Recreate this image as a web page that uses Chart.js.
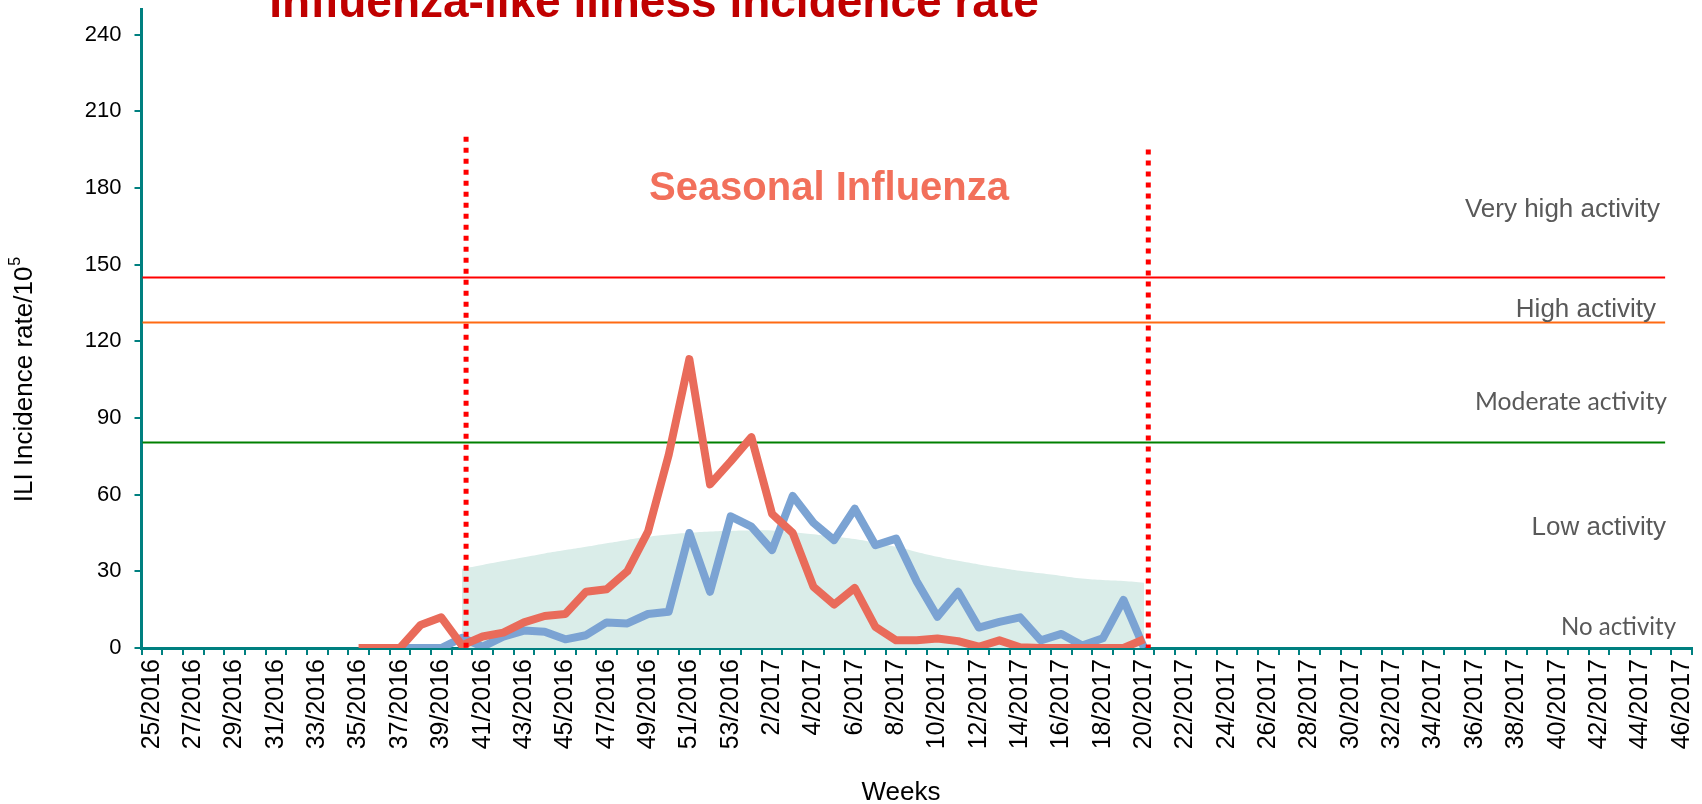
<!DOCTYPE html>
<html>
<head>
<meta charset="utf-8">
<script src="https://cdn.jsdelivr.net/npm/chart.js@4.4.1/dist/chart.umd.min.js"></script>
<style>
html,body{margin:0;padding:0;background:#ffffff;}
#wrap{width:1702px;height:804px;position:relative;overflow:hidden;}
</style>
</head>
<body>
<div id="wrap"><canvas id="c" width="1702" height="804"></canvas></div>
<script>
// ---------- DATA ----------
const weekLabels = [
  '25/2016','26/2016','27/2016','28/2016','29/2016','30/2016','31/2016','32/2016','33/2016','34/2016',
  '35/2016','36/2016','37/2016','38/2016','39/2016','40/2016','41/2016','42/2016','43/2016','44/2016',
  '45/2016','46/2016','47/2016','48/2016','49/2016','50/2016','51/2016','52/2016','53/2016',
  '1/2017','2/2017','3/2017','4/2017','5/2017','6/2017','7/2017','8/2017','9/2017','10/2017',
  '11/2017','12/2017','13/2017','14/2017','15/2017','16/2017','17/2017','18/2017','19/2017','20/2017',
  '21/2017','22/2017','23/2017','24/2017','25/2017','26/2017','27/2017','28/2017','29/2017','30/2017',
  '31/2017','32/2017','33/2017','34/2017','35/2017','36/2017','37/2017','38/2017','39/2017','40/2017',
  '41/2017','42/2017','43/2017','44/2017','45/2017','46/2017'
];

const _ = null;
// ILI incidence rate, current season (red)
const iliCurrent = [
  _,_,_,_,_,_,_,_,_,_,
  0,0,0,9,12,1,4.5,6,10,12.5,
  13.3,22,23,30,45.5,75.5,113,64,73,
  82.5,52.5,45,24,17,23.5,8.3,3,3,3.7,
  2.7,0.5,3,0.3,0,0,0,0,0,3.4,
  _,_,_,_,_,_,_,_,_,_,
  _,_,_,_,_,_,_,_,_,_,
  _,_,_,_,_,_
];
// ILI incidence rate, comparison season (blue)
const iliPrevious = [
  _,_,_,_,_,_,_,_,_,_,
  _,_,0,0,0,4,0.5,4.4,6.8,6.4,
  3.4,5,10,9.6,13.3,14.2,45,22,51.5,
  47.5,38.3,59.5,49,42.2,54.5,40.2,42.8,26,12.2,
  22,8,10.2,12,3,5.5,1,3.8,18.8,0,
  _,_,_,_,_,_,_,_,_,_,
  _,_,_,_,_,_,_,_,_,_,
  _,_,_,_,_,_
];
// Expected / baseline band (shaded area)
const iliBaseline = [
  _,_,_,_,_,_,_,_,_,_,
  _,_,_,_,_,31,32.5,34,35.5,37,
  38.3,39.6,41,42.3,43.5,44.4,45.1,45.6,45.9,
  46,46,45.3,44.5,43.5,42.6,41.1,39.6,37.6,35.7,
  34.1,32.7,31.4,30.2,29.2,28.2,27.2,26.6,26.2,25.5,
  _,_,_,_,_,_,_,_,_,_,
  _,_,_,_,_,_,_,_,_,_,
  _,_,_,_,_,_
];

// Activity thresholds (per 100 000)
const thresholdValues = [145, 127.5, 80.4];
const activityLabels = ['Very high activity', 'High activity', 'Moderate activity', 'Low activity', 'No activity'];
// Season start / end weeks (category index) and height of the dotted markers
const seasonWeeks = ['40/2016', '20/2017'];
const seasonMarkerTop = [200, 195];
const yTickValues = [0, 30, 60, 90, 120, 150, 180, 210, 240];

const chartTitle = 'Influenza-like illness incidence rate';
const seasonTitle = 'Seasonal Influenza';
const yTitleMain = 'ILI Incidence rate/10';
const yTitleSup = '5';
const xTitle = 'Weeks';

// ---------- STYLE / LAYOUT ----------
const ARIAL = "'Liberation Sans', Arial, sans-serif";
const CALIBRI = "Lato, 'Open Sans', sans-serif";
const TEAL = '#008080';
const thresholdColors = ['#FF0000', '#FF6A13', '#008000'];
const activityStyle = [
  {font: '26px ' + ARIAL, right: 1660, value: 168.5},
  {font: '26px ' + ARIAL, right: 1656, value: 129.6},
  {font: '25px ' + CALIBRI, right: 1667, value: 93, maxW: 192},
  {font: '26px ' + ARIAL, right: 1666, value: 44.2},
  {font: '25px ' + CALIBRI, right: 1676, value: 5.2, maxW: 115}
];

const annotations = {
  id: 'annotations',
  beforeDatasetsDraw(chart) {
    const {ctx, chartArea, scales: {x, y}} = chart;
    const band = x.getPixelForValue(1) - x.getPixelForValue(0);
    const xEnd = x.getPixelForValue(73) + band * 0.2;
    ctx.save();
    thresholdValues.forEach((v, i) => {
      const py = Math.round(y.getPixelForValue(v)) + 0.5;
      ctx.beginPath();
      ctx.strokeStyle = thresholdColors[i];
      ctx.lineWidth = 2;
      ctx.moveTo(chartArea.left + 1, py);
      ctx.lineTo(xEnd, py);
      ctx.stroke();
    });
    ctx.restore();
  },
  afterDatasetsDraw(chart) {
    const {ctx, chartArea, scales: {x, y}} = chart;
    const band = x.getPixelForValue(1) - x.getPixelForValue(0);
    ctx.save();
    // dotted season markers
    ctx.strokeStyle = '#FF0000';
    ctx.lineWidth = 5;
    ctx.setLineDash([5, 6]);
    seasonWeeks.forEach((w, i) => {
      const px = x.getPixelForValue(weekLabels.indexOf(w)) + band * 0.2;
      ctx.beginPath();
      ctx.moveTo(px, y.getPixelForValue(seasonMarkerTop[i]));
      ctx.lineTo(px, y.getPixelForValue(0));
      ctx.stroke();
    });
    ctx.setLineDash([]);
    // activity labels
    ctx.fillStyle = '#595959';
    ctx.textAlign = 'right';
    ctx.textBaseline = 'alphabetic';
    activityLabels.forEach((t, i) => {
      const s = activityStyle[i];
      ctx.font = s.font;
      if (s.maxW) ctx.fillText(t, s.right, y.getPixelForValue(s.value), s.maxW);
      else ctx.fillText(t, s.right, y.getPixelForValue(s.value));
    });
    // season title
    ctx.fillStyle = '#F2705B';
    ctx.font = 'bold 40px ' + ARIAL;
    ctx.textAlign = 'center';
    ctx.fillText(seasonTitle, 829, 200);
    // chart title (cut off at the top as in the original)
    ctx.fillStyle = '#C00000';
    ctx.font = 'bold 46px ' + ARIAL;
    ctx.fillText(chartTitle, 654, 17);
    // x axis title
    ctx.fillStyle = '#000000';
    ctx.font = '26px ' + ARIAL;
    ctx.fillText(xTitle, 901, 800);
    // y axis title with superscript
    ctx.font = '26px ' + ARIAL;
    const w1 = ctx.measureText(yTitleMain).width;
    ctx.font = '16px ' + ARIAL;
    const w2 = ctx.measureText(yTitleSup).width;
    ctx.translate(25, 380);
    ctx.rotate(-Math.PI / 2);
    ctx.textAlign = 'left';
    ctx.textBaseline = 'middle';
    ctx.font = '26px ' + ARIAL;
    ctx.fillText(yTitleMain, -(w1 + w2) / 2, 0);
    ctx.font = '16px ' + ARIAL;
    ctx.fillText(yTitleSup, -(w1 + w2) / 2 + w1 + 1, -9);
    ctx.restore();
  }
};

new Chart(document.getElementById('c'), {
  type: 'line',
  data: {
    labels: weekLabels,
    datasets: [
      {label: 'Current season', data: iliCurrent, borderColor: '#E96B5A', borderWidth: 8,
       pointRadius: 0, fill: false, tension: 0, borderJoinStyle: 'round', borderCapStyle: 'butt'},
      {label: 'Previous season', data: iliPrevious, borderColor: '#7BA3D3', borderWidth: 8,
       pointRadius: 0, fill: false, tension: 0, borderJoinStyle: 'round', borderCapStyle: 'butt'},
      {label: 'Baseline', data: iliBaseline, borderWidth: 0, borderColor: 'rgba(0,0,0,0)',
       backgroundColor: '#DAEDE9', fill: 'origin', pointRadius: 0, tension: 0.4}
    ]
  },
  options: {
    responsive: false,
    animation: false,
    devicePixelRatio: 1,
    layout: {padding: {left: 0, right: 10, top: 9, bottom: 0}},
    plugins: {legend: {display: false}, tooltip: {enabled: false}},
    scales: {
      x: {
        type: 'category',
        offset: true,
        grid: {offset: true, drawOnChartArea: false, drawTicks: true, tickLength: 7, color: TEAL, lineWidth: 2},
        border: {color: TEAL, width: 3},
        ticks: {
          autoSkip: false, minRotation: 90, maxRotation: 90, padding: 4, color: '#000000',
          font: {family: ARIAL, size: 25},
          callback: (v, i) => (i % 2 === 0 ? weekLabels[i] : '')
        },
        title: {display: false},
        afterFit: (s) => { s.height = 156; s.paddingLeft = 0; s.paddingRight = 0; }
      },
      y: {
        min: 0, max: 250,
        grid: {drawOnChartArea: false, drawTicks: true, tickLength: 7, color: TEAL, lineWidth: 2},
        border: {color: TEAL, width: 3},
        ticks: {stepSize: 30, includeBounds: false, padding: 13, color: '#000000', font: {family: ARIAL, size: 22}},
        afterBuildTicks: (s) => { s.ticks = yTickValues.map(v => ({value: v})); },
        afterFit: (s) => { s.width = 141.5; s.paddingTop = 0; s.paddingBottom = 0; }
      }
    }
  },
  plugins: [annotations]
});
</script>
</body>
</html>
